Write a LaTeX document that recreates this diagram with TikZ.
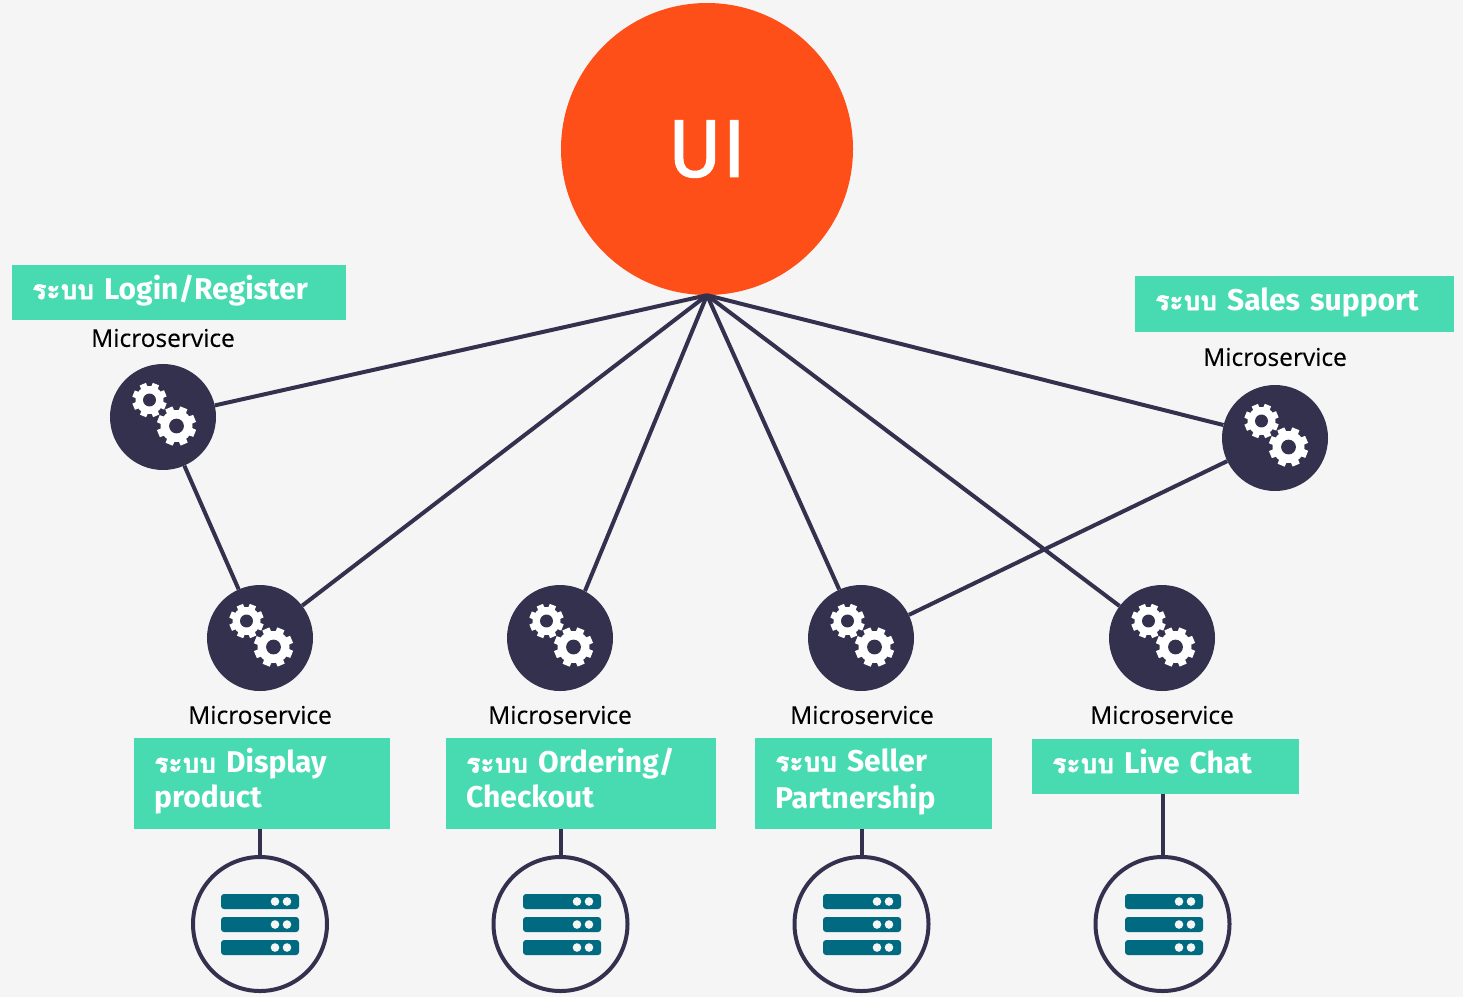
\documentclass[tikz,border=0pt]{standalone}
\usepackage{fontspec}
\setmainfont{Fira Sans}
\newfontfamily\thaifont[Script=Thai,Scale=0.88,FakeBold=2]{Loma}
\newfontfamily\labelfont[FakeBold=0.3]{Open Sans}
\newfontfamily\uifont[FakeBold=1.2]{Fira Sans}
\usetikzlibrary{positioning}
\usetikzlibrary{calc}
\definecolor{pagegray}{HTML}{F5F5F5}
\definecolor{uiorange}{HTML}{FF4F19}
\definecolor{navy}{HTML}{33314E}
\definecolor{mint}{HTML}{48DBB2}
\definecolor{rackteal}{HTML}{006A80}
\newcommand{\boxstrut}{\rule[-11.5pt]{0pt}{35pt}}
\newcommand{\rabob}{\boxstrut{\thaifont ระบบ}}
\tikzset{
  link/.style={navy, line width=4pt},
  uicircle/.style={circle, fill=uiorange, text=white, inner sep=0pt, minimum size=292pt, font=\uifont\fontsize{82}{82}\selectfont},
  service/.style={circle, fill=navy, inner sep=0pt, minimum size=106pt},
  store/.style={circle, draw=navy, fill=pagegray, line width=4pt, inner sep=0pt, minimum size=134pt},
  systembox/.style={anchor=north west, fill=mint, text=white, inner xsep=20pt, inner ysep=4pt, align=left, font=\bfseries\fontsize{30}{35}\selectfont},
  caption/.style={text=black, inner sep=0pt, font=\labelfont\fontsize{24.5}{28}\selectfont},
  rackbar/.style={fill=rackteal, rounded corners=3pt},
}
% gear: centre x, centre y, radius
\newcommand{\gearshape}[3]{
  \fill[white] (#1,#2) circle [radius=0.8*#3];
  \foreach \a in {0,45,...,315} {
    \fill[white] ($(#1,#2)+(\a+22-16:0.72*#3)$) -- ($(#1,#2)+(\a+22-11:#3)$) -- ($(#1,#2)+(\a+22+11:#3)$) -- ($(#1,#2)+(\a+22+16:0.72*#3)$) -- cycle;
  }
  \fill[navy] (#1,#2) circle [radius=0.37*#3];
}
\tikzset{
  gears/.pic={
    \gearshape{-13.5}{-17}{17.5}
    \gearshape{13.5}{9}{20}
  },
  rack/.pic={
    \foreach \y in {-30,-7,16} {
      \fill[rackbar] (-39,\y) rectangle (39,\y+15);
      \fill[pagegray] (15,\y+7.5) circle [radius=4.3];
      \fill[pagegray] (27,\y+7.5) circle [radius=4.3];
    }
  },
}
\begin{document}
\begin{tikzpicture}[x=1pt,y=-1pt]
\useasboundingbox[fill=pagegray] (0,0) rectangle (1463,997);

\node[uicircle] (ui) at (707,149) {UI};

% services
\node[service] (login) at (163,417) {};
\node[service] (sales) at (1275,438) {};
\node[service] (display) at (260,638) {};
\node[service] (ordering) at (560,638) {};
\node[service] (seller) at (861,638) {};
\node[service] (chat) at (1162,638) {};

\foreach \n in {login,sales,display,seller,chat} {
  \draw[link] (ui.south) -- (\n);
}
\draw[link] (ui.south) -- (ordering.62);
\draw[link] (login) -- (display);
\draw[link] (sales) -- (seller);
\foreach \n in {login,sales,display,ordering,seller,chat} {
  \pic at (\n) {gears};
}

\node[caption] at (163,338) {Microservice};
\node[caption] at (1275,357) {Microservice};
\node[caption] at (260,715) {Microservice};
\node[caption] at (560,715) {Microservice};
\node[caption] at (862,715) {Microservice};
\node[caption] at (1162,715) {Microservice};

% green labels
\node[systembox, text width=294pt, minimum height=55pt] (loginbox) at (12,265) {\rabob{} Login/Register};
\node[systembox, text width=279pt, minimum height=56pt] (salesbox) at (1135,276) {\rabob{} Sales support};
\node[systembox, text width=216pt, minimum height=91pt] (displaybox) at (134,738) {\rabob{} Display\\\boxstrut product};
\node[systembox, text width=230pt, minimum height=91pt] (orderingbox) at (446,738) {\rabob{} Ordering/\\\boxstrut Checkout};
\node[systembox, text width=197pt, minimum height=91pt] (sellerbox) at (755,738) {\rabob{} Seller\\\boxstrut Partnership};
\node[systembox, text width=227pt, minimum height=55pt] (chatbox) at (1032,739) {\rabob{} Live Chat};

% databases
\node[store] (displaydb) at (260,924) {};
\node[store] (orderingdb) at (560.5,924) {};
\node[store] (sellerdb) at (861.5,924) {};
\node[store] (chatdb) at (1162.5,924) {};

\foreach \n/\dx in {display/0,ordering/1.5,seller/0.5,chat/1.5} {
  \draw[link] (\n db.north) -- (\n db.north |- \n box.south);
  \pic at ($(\n db)+(\dx,0)$) {rack};
}
\end{tikzpicture}
\end{document}
